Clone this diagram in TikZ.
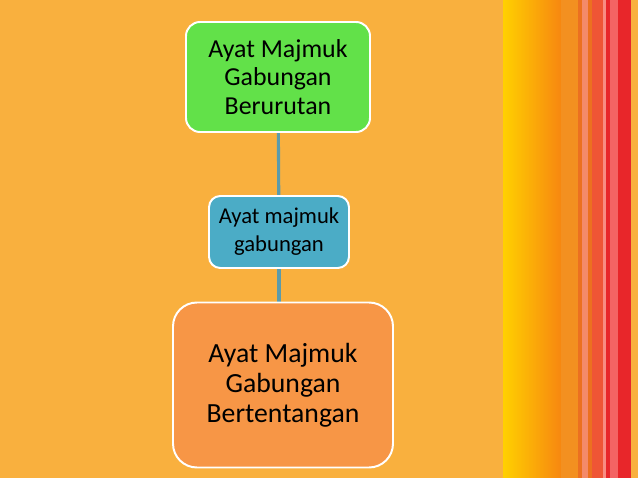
\documentclass[tikz,border=0pt]{standalone}
\usepackage{fontspec}
\setmainfont{Carlito}
\usetikzlibrary{backgrounds}
\definecolor{bgorange}{RGB}{249,176,62}
\definecolor{boxgreen}{RGB}{98,225,73}
\definecolor{boxblue}{RGB}{75,172,198}
\definecolor{boxorange}{RGB}{247,150,70}
\definecolor{linkblue}{RGB}{91,155,170}
\definecolor{stripeyellow}{RGB}{255,208,0}
\definecolor{stripeorange}{RGB}{247,135,16}
\definecolor{stripeamber}{RGB}{243,144,32}
\definecolor{stripedark}{RGB}{236,112,32}
\definecolor{stripesalmon}{RGB}{244,138,106}
\definecolor{stripered}{RGB}{239,85,53}
\definecolor{stripepink}{RGB}{244,100,100}
\definecolor{stripelight}{RGB}{248,140,130}
\definecolor{stripedeep}{RGB}{232,38,42}
\tikzset{
  box/.style={draw=white,line width=1.4pt,align=center,text=black,inner sep=0pt},
  link/.style={draw=linkblue,line width=2.2pt}
}
\begin{document}
\begin{tikzpicture}[x=0.025cm,y=-0.025cm]
      \useasboundingbox (0,0) rectangle (638,478);
      \node[box,fill=boxgreen,rounded corners=10pt,minimum width=184*0.025cm,minimum height=110*0.025cm,
        font=\fontsize{18.4}{20.2}\selectfont] (green) at (278,77) {Ayat Majmuk\\Gabungan\\Berurutan};
      \node[box,fill=boxblue,rounded corners=8pt,minimum width=140*0.025cm,minimum height=72*0.025cm,
        font=\fontsize{16.1}{19.8}\selectfont] (blue) at (279,232) {Ayat majmuk\\gabungan};
      \node[box,fill=boxorange,rounded corners=17pt,minimum width=220*0.025cm,minimum height=165*0.025cm,
        font=\fontsize{19.7}{21.3}\selectfont] (orange) at (283,385) {Ayat Majmuk\\Gabungan\\Bertentangan};
      \begin{scope}[on background layer]
        \fill[bgorange] (0,0) rectangle (638,478);
        % stripes on the right
        \shade[left color=stripeyellow,right color=stripeorange] (503,0) rectangle (561,478);
        \fill[stripeamber] (561,0) rectangle (578,478);
        \fill[stripedark] (578,0) rectangle (582,478);
        \fill[stripesalmon] (582,0) rectangle (588,478);
        \fill[stripedark] (588,0) rectangle (592,478);
        \fill[stripered] (592,0) rectangle (603,478);
        \fill[stripelight] (603,0) rectangle (606,478);
        \fill[stripedeep] (606,0) rectangle (610,478);
        \fill[stripepink] (610,0) rectangle (618,478);
        \fill[stripedeep] (618,0) rectangle (631,478);
        \draw[link] (green) -- (blue);
        \draw[link] (blue) -- (blue |- orange.north);
      \end{scope}
\end{tikzpicture}
\end{document}
